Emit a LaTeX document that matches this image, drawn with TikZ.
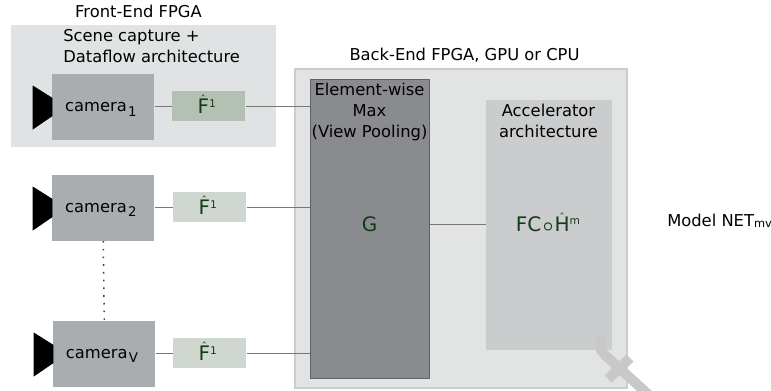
\documentclass[tikz,border=0pt]{standalone}
\usepackage{fontspec}
\setmainfont{DejaVu Sans}
\usepackage{tikz}
\usetikzlibrary{calc}
\definecolor{frontgray}{HTML}{DFE3E3}
\definecolor{backgray}{HTML}{E2E4E4}
\definecolor{backline}{HTML}{CBCDCD}
\definecolor{camgray}{HTML}{A9ADB0}
\definecolor{featfirst}{HTML}{B5C0B5}
\definecolor{featgray}{HTML}{D0D7D0}
\definecolor{poolgray}{HTML}{8A8B8F}
\definecolor{poolline}{HTML}{606266}
\definecolor{accgray}{HTML}{CBCCCE}
\definecolor{markgray}{HTML}{C8C8C8}
\definecolor{darkgreen}{HTML}{143C14}
\definecolor{wiregray}{HTML}{777777}
\newcommand{\camsub}[1]{\hspace*{1pt}\raisebox{-3.5pt}[0pt][0pt]{\fontsize{10}{10}\selectfont #1}\hspace*{3.5pt}}
\newcommand{\hatted}[1]{\ooalign{#1\cr\hidewidth\raisebox{7pt}{\fontsize{8}{8}\selectfont ˆ}\hidewidth\cr}}
\newcommand{\fhat}{\fontsize{15}{16}\selectfont\color{darkgreen}\hatted{F}\raisebox{4.5pt}{\fontsize{8}{8}\selectfont 1}\hspace*{3pt}}
\tikzset{
  box/.style={inner sep=0pt,anchor=north west},
  cambox/.style={box,fill=camgray,minimum width=76.5pt,minimum height=49.5pt,font=\fontsize{12.25}{12}\selectfont},
  featbox/.style={box,fill=featgray,minimum width=54.75pt,minimum height=22pt},
  lbl/.style={inner sep=0pt,font=\fontsize{12.25}{15.75}\selectfont},
  wire/.style={wiregray,line width=0.6pt},
  horn/.style={fill=black}
}
\begin{document}
\begin{tikzpicture}[x=0.75pt,y=-0.75pt]
\useasboundingbox (0,0) rectangle (771,390);
\node[box,fill=frontgray,minimum width=198.75pt,minimum height=91.5pt] (front) at (11,25) {};
\node[box,fill=backgray,draw=backline,line width=1.5pt,minimum width=249pt,minimum height=239pt] (back) at (294,68) {};
\node[lbl] (fronttitle) at (138.5,11) {Front-End FPGA};
\node[lbl] (backtitle) at (464.5,55) {Back-End FPGA, GPU or CPU};
\node[lbl,align=left,anchor=west] (scene) at (63,46.5) {Scene capture +\\Dataflow architecture};
% cameras
\node[cambox] (cam1) at (52,74) {camera\camsub{1}};
\node[cambox] (cam2) at (52,174.5) {camera\camsub{2}};
\node[cambox] (camv) at (53,320.5) {camera\camsub{V}};
\draw[horn] (33,86)--(52,98)--(52,116)--(33,129)--cycle;
\draw[horn] (33,187)--(52,199)--(52,217)--(33,230)--cycle;
\draw[horn] (34,333)--(53,345)--(53,363)--(34,376)--cycle;
% features
\node[featbox,fill=featfirst] (feat1) at (172,91) {\fhat};
\node[featbox] (feat2) at (173,192) {\fhat};
\node[featbox] (featv) at (173,338) {\fhat};
% pooling and accelerator
\node[box,fill=poolgray,draw=poolline,line width=0.75pt,minimum width=89pt,minimum height=224pt] (pool) at (310,79) {};
\node[box,fill=accgray,draw=backline,line width=0.5pt,minimum width=93.5pt,minimum height=187pt] (acc) at (486,100) {};
\node[lbl,align=center,anchor=north] (pooltext) at (369.5,83) {Element-wise\\Max\\(View Pooling)};
\node[lbl,align=center,anchor=north] (acctext) at (548.5,104) {Accelerator\\architecture};
\node[inner sep=0pt,font=\fontsize{15}{16}\selectfont,text=darkgreen] (gtext) at (369.5,224) {G};
\node[inner sep=0pt,font=\fontsize{15}{16}\selectfont,text=darkgreen] (fctext) at (548,224) {FC\kern1pt\scalebox{0.95}{\boldmath$\circ$}\kern1pt\hatted{H}\raisebox{5pt}{\fontsize{8}{8}\selectfont m}};
\node[lbl,anchor=west] (model) at (667,221) {Model NET\raisebox{-0.5pt}{\fontsize{8.5}{8}\selectfont mv}};
% connectors
\draw[wire] (cam1.east|-feat1.west) -- (feat1.west);
\draw[wire] (cam2.east|-feat2.west) -- (feat2.west);
\draw[wire] (camv.east|-featv.west) -- (featv.west);
\draw[wire] (feat1.east) -- (feat1.east-|pool.west);
\draw[wire] (feat2.east) -- (feat2.east-|pool.west);
\draw[wire] (featv.east) -- (featv.east-|pool.west);
\draw[wire] (pool.east|-gtext) -- (acc.west|-gtext);
\draw[black!75,line width=1.1pt,dash pattern=on 1.2pt off 4.6pt] (cam2.south) -- (camv.north);
% mark in the corner
\draw[markgray,line width=7.5pt] (603,336) .. controls (597,344) and (600,350) .. (606,356) -- (650,396);
\draw[markgray,line width=7.5pt] (630,358) -- (608,379);
\end{tikzpicture}
\end{document}
